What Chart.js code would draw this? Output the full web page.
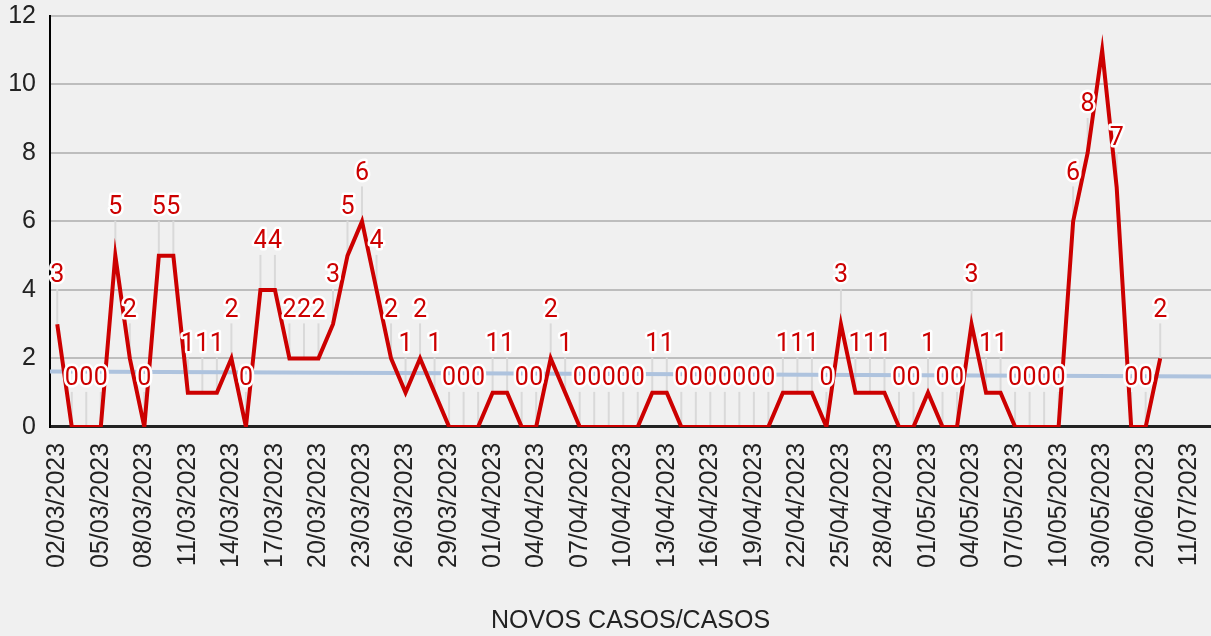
<!DOCTYPE html>
<html>
<head>
<meta charset="utf-8">
<script src="https://cdn.jsdelivr.net/npm/chart.js@4"></script>
<style>
  body { margin: 0; background: #f0f0f0; }
  #caixa { width: 1211px; height: 636px; position: relative; }
</style>
</head>
<body>
<div id="caixa"><canvas id="grafico"></canvas></div>
<script>
// datas (eixo x)
const datas = [
  '02/03/2023','03/03/2023','04/03/2023','05/03/2023','06/03/2023','07/03/2023','08/03/2023','09/03/2023','10/03/2023','11/03/2023',
  '12/03/2023','13/03/2023','14/03/2023','15/03/2023','16/03/2023','17/03/2023','18/03/2023','19/03/2023','20/03/2023','21/03/2023',
  '22/03/2023','23/03/2023','24/03/2023','25/03/2023','26/03/2023','27/03/2023','28/03/2023','29/03/2023','30/03/2023','31/03/2023',
  '01/04/2023','02/04/2023','03/04/2023','04/04/2023','05/04/2023','06/04/2023','07/04/2023','08/04/2023','09/04/2023','10/04/2023',
  '11/04/2023','12/04/2023','13/04/2023','14/04/2023','15/04/2023','16/04/2023','17/04/2023','18/04/2023','19/04/2023','20/04/2023',
  '21/04/2023','22/04/2023','23/04/2023','24/04/2023','25/04/2023','26/04/2023','27/04/2023','28/04/2023','29/04/2023','30/04/2023',
  '01/05/2023','02/05/2023','03/05/2023','04/05/2023','05/05/2023','06/05/2023','07/05/2023','08/05/2023','09/05/2023','10/05/2023',
  '17/05/2023','23/05/2023','30/05/2023','06/06/2023','13/06/2023','20/06/2023','27/06/2023','04/07/2023','11/07/2023','18/07/2023'
];

// novos casos por dia
const novosCasos = [
  3,0,0,0,5,2,0,5,5,1,
  1,1,2,0,4,4,2,2,2,3,
  5,6,4,2,1,2,1,0,0,0,
  1,1,0,0,2,1,0,0,0,0,
  0,1,1,0,0,0,0,0,0,0,
  1,1,1,0,3,1,1,1,0,0,
  1,0,0,3,1,1,0,0,0,0,
  6,8,11,7,0,0,2,null,null,null
];

// linha de tendencia (inicio e fim)
const tendenciaInicio = 1.62;
const tendenciaFim = 1.47;

const eixoY = [0, 2, 4, 6, 8, 10, 12];

const VERMELHO = '#cc0000';

// rotulo cabe acima do ponto?
function cabe(p) {
  return p.y - 48 - 12 >= 0;
}

// rotulos dos pontos com linha guia
const rotulos = {
  id: 'rotulos',
  beforeDatasetsDraw(chart) {
    const ctx = chart.ctx;
    const meta = chart.getDatasetMeta(0);
    ctx.save();
    ctx.strokeStyle = '#d9d9d9';
    ctx.lineWidth = 2;
    meta.data.forEach((p, i) => {
      if (novosCasos[i] === null || !cabe(p)) return;
      ctx.beginPath();
      ctx.moveTo(p.x, p.y - 35);
      ctx.lineTo(p.x, p.y);
      ctx.stroke();
    });
    ctx.restore();
  },
  afterDatasetsDraw(chart) {
    const ctx = chart.ctx;
    const meta = chart.getDatasetMeta(0);
    ctx.save();
    ctx.font = '25px Roboto';
    ctx.textAlign = 'center';
    ctx.textBaseline = 'middle';
    ctx.lineJoin = 'round';
    meta.data.forEach((p, i) => {
      const v = novosCasos[i];
      if (v === null || !cabe(p)) return;
      const yRot = p.y - 48;
      ctx.strokeStyle = '#ffffff';
      ctx.lineWidth = 5;
      ctx.strokeText(String(v), p.x, yRot);
      ctx.fillStyle = VERMELHO;
      ctx.fillText(String(v), p.x, yRot);
    });
    ctx.restore();
  }
};

new Chart(document.getElementById('grafico'), {
  type: 'line',
  data: {
    labels: datas,
    datasets: [{
      label: 'NOVOS CASOS',
      data: novosCasos,
      borderColor: VERMELHO,
      borderWidth: 4,
      pointRadius: 0,
      tension: 0,
      fill: false
    }, {
      label: 'Tendência',
      xAxisID: 'xTend',
      data: [{x: -0.5, y: tendenciaInicio}, {x: datas.length - 0.5, y: tendenciaFim}],
      borderColor: '#aec3de',
      borderWidth: 4,
      pointRadius: 0,
      fill: false
    }]
  },
  options: {
    responsive: true,
    maintainAspectRatio: false,
    animation: false,
    layout: { padding: { left: 8, right: 0, top: 16, bottom: 0 } },
    plugins: {
      legend: { display: false },
      tooltip: { enabled: false }
    },
    scales: {
      x: {
        offset: true,
        grid: { display: false },
        border: { color: '#222', width: 3 },
        afterFit: (s) => { s.paddingLeft = 0; s.paddingRight = 0; },
        ticks: {
          autoSkip: false,
          minRotation: 90,
          maxRotation: 90,
          padding: 8,
          color: '#222',
          font: { family: 'Liberation Sans', size: 25 },
          callback: (v, i) => i % 3 === 0 ? datas[i] : ''
        },
        title: {
          display: true,
          text: 'NOVOS CASOS/CASOS',
          color: '#222',
          font: { family: 'Liberation Sans', size: 25 },
          padding: { top: 30, bottom: 0 }
        }
      },
      xTend: {
        type: 'linear',
        display: false,
        min: -0.5,
        max: datas.length - 0.5
      },
      y: {
        min: eixoY[0],
        max: eixoY[eixoY.length - 1],
        afterFit: (s) => { s.width = 42; s.paddingTop = 0; s.paddingBottom = 0; },
        grid: { color: '#bdbdbd', lineWidth: 2, drawTicks: false },
        border: { color: '#000', width: 2 },
        ticks: {
          stepSize: 2,
          padding: 14,
          color: '#222',
          font: { family: 'Liberation Sans', size: 25 }
        }
      }
    }
  },
  plugins: [rotulos]
});
</script>
</body>
</html>
